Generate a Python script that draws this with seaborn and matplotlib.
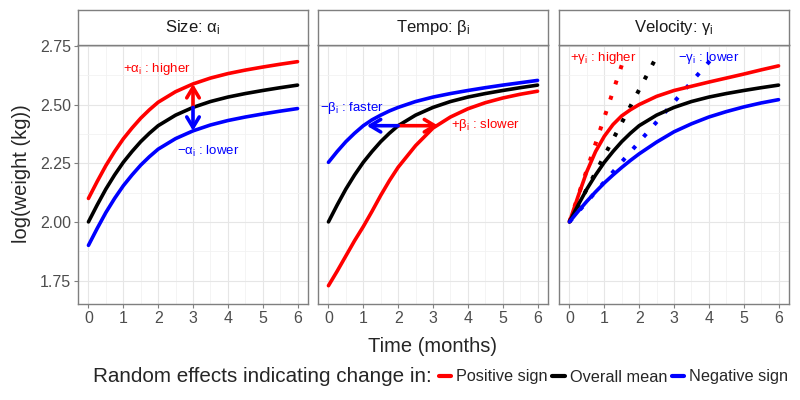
import matplotlib

matplotlib.use("Agg")
import matplotlib.pyplot as plt
import pandas as pd
import seaborn as sns
from matplotlib.lines import Line2D
from matplotlib.ticker import MultipleLocator

# values
time = [0, 0.25, 0.5, 0.75, 1, 1.25, 1.5, 1.75, 2, 2.5, 3, 3.5, 4, 4.5, 5, 5.5, 6]

mean_curve = [2.000, 2.072, 2.140, 2.200, 2.254, 2.300, 2.342, 2.378, 2.410,
              2.455, 2.488, 2.513, 2.532, 2.547, 2.560, 2.572, 2.583]

size_pos = [2.100, 2.172, 2.240, 2.300, 2.354, 2.400, 2.442, 2.478, 2.510,
            2.555, 2.588, 2.613, 2.632, 2.647, 2.660, 2.672, 2.683]
size_neg = [1.900, 1.972, 2.040, 2.100, 2.154, 2.200, 2.242, 2.278, 2.310,
            2.355, 2.388, 2.413, 2.432, 2.447, 2.460, 2.472, 2.483]

tempo_pos = [1.728, 1.790, 1.855, 1.920, 1.980, 2.045, 2.113, 2.176, 2.233,
             2.325, 2.400, 2.447, 2.482, 2.508, 2.528, 2.544, 2.557]
tempo_neg = [2.254, 2.300, 2.342, 2.378, 2.410, 2.435, 2.455, 2.473, 2.488,
             2.513, 2.532, 2.547, 2.560, 2.572, 2.583, 2.593, 2.603]

velocity_pos = [2.000, 2.110, 2.215, 2.300, 2.365, 2.415, 2.452, 2.478, 2.500,
                2.535, 2.560, 2.578, 2.596, 2.613, 2.630, 2.648, 2.665]
velocity_neg = [2.000, 2.045, 2.088, 2.128, 2.166, 2.200, 2.232, 2.262, 2.290,
                2.340, 2.384, 2.418, 2.447, 2.470, 2.490, 2.507, 2.521]

# initial-velocity lines in the velocity panel
tangent_pos_t = [0.0, 1.55]
tangent_mean_t = [0.0, 2.45]
tangent_neg_t = [0.0, 4.05]
tangent_y = [2.0, 2.69]

signs = ["Positive sign", "Overall mean", "Negative sign"]
palette = {"Positive sign": "#FF0000", "Overall mean": "#000000", "Negative sign": "#0000FF"}
panels = ["Size", "Tempo", "Velocity"]
strip_labels = [r"Size: α$_\mathrm{i}$", r"Tempo: β$_\mathrm{i}$",
                r"Velocity: γ$_\mathrm{i}$"]

# arrow positions (time) and labels
size_arrow_t = 3
tempo_arrow_start_t = 2
tempo_arrow_ends_t = [3.15, 1.1]

curves = {
    "Size": [size_pos, mean_curve, size_neg],
    "Tempo": [tempo_pos, mean_curve, tempo_neg],
    "Velocity": [velocity_pos, mean_curve, velocity_neg],
}

frames = []
for panel, series in curves.items():
    for sign, values in zip(signs, series):
        frames.append(pd.DataFrame({"time": time, "value": values,
                                    "sign": sign, "panel": panel}))
df = pd.concat(frames, ignore_index=True)

tangents = pd.concat([
    pd.DataFrame({"time": t, "value": tangent_y, "sign": s})
    for t, s in zip([tangent_pos_t, tangent_mean_t, tangent_neg_t], signs)
], ignore_index=True)

sns.set_theme(style="white")
plt.rcParams["font.family"] = ["Liberation Sans", "DejaVu Sans"]
plt.rcParams["mathtext.fontset"] = "custom"
plt.rcParams["mathtext.rm"] = "Liberation Sans"
plt.rcParams["mathtext.it"] = "Liberation Sans:italic"

W, H = 800, 400
fig = plt.figure(figsize=(8, 4), dpi=100)
lefts = [78, 318, 559]
pw = 230
top, bottom, strip_top = 45, 304, 10
border = "#7F7F7F"
lw = 2.6

axes = []
for i, (panel, left) in enumerate(zip(panels, lefts)):
    ax = fig.add_axes([left / W, 1 - bottom / H, pw / W, (bottom - top) / H])
    sax = fig.add_axes([left / W, 1 - top / H, pw / W, (top - strip_top) / H])
    sax.set_xticks([])
    sax.set_yticks([])
    sax.set_facecolor("white")
    for sp in sax.spines.values():
        sp.set_color(border)
        sp.set_linewidth(1)
    sax.text(0.5, 0.5, strip_labels[i], ha="center", va="center",
             fontsize=12, color="#1A1A1A", transform=sax.transAxes)

    if panel == "Velocity":
        sns.lineplot(data=tangents, x="time", y="value", hue="sign",
                     palette=palette, hue_order=signs, linewidth=2.9,
                     linestyle=(0, (1, 3.0)), legend=False, ax=ax, zorder=2)

    sns.lineplot(data=df[df["panel"] == panel], x="time", y="value", hue="sign",
                 palette=palette, hue_order=signs, linewidth=lw,
                 legend=False, ax=ax, zorder=3)

    ax.set_xlim(-0.3, 6.3)
    ax.set_ylim(1.65, 2.754)
    ax.xaxis.set_major_locator(MultipleLocator(1))
    ax.xaxis.set_minor_locator(MultipleLocator(0.5))
    ax.yaxis.set_major_locator(MultipleLocator(0.25))
    ax.yaxis.set_minor_locator(MultipleLocator(0.125))
    ax.grid(which="major", color="#E6E6E6", linewidth=0.8)
    ax.grid(which="minor", color="#F2F2F2", linewidth=0.6)
    ax.set_axisbelow(True)
    for sp in ax.spines.values():
        sp.set_color(border)
        sp.set_linewidth(1)
    ax.tick_params(axis="both", which="major", length=3, width=0.8, color="#7F7F7F",
                   labelcolor="#4D4D4D", labelsize=11.5, pad=2,
                   bottom=True, left=(i == 0))
    ax.tick_params(which="minor", length=0)
    if i > 0:
        ax.set_yticklabels([])
    ax.set_xlabel("")
    ax.set_ylabel("")
    axes.append(ax)

head = "->,head_length=0.5,head_width=0.3"

# size panel: vertical arrows from the mean curve
ax = axes[0]
k = time.index(size_arrow_t)
for target, sign in [(size_pos, "Positive sign"), (size_neg, "Negative sign")]:
    ax.annotate("", xy=(size_arrow_t, target[k]), xytext=(size_arrow_t, mean_curve[k]),
                arrowprops=dict(arrowstyle=head, color=palette[sign], lw=lw,
                                mutation_scale=15, shrinkA=0, shrinkB=0), zorder=4)
ax.text(1.97, 2.652, r"+α$_\mathrm{i}$ : higher", color="#FF0000",
        fontsize=9.5, ha="center", va="center")
ax.text(3.45, 2.300, r"−α$_\mathrm{i}$ : lower", color="#0000FF",
        fontsize=9.5, ha="center", va="center")

# tempo panel: horizontal arrows at the mean curve
ax = axes[1]
y0 = mean_curve[time.index(tempo_arrow_start_t)]
for end_t, sign in zip(tempo_arrow_ends_t, ["Positive sign", "Negative sign"]):
    ax.annotate("", xy=(end_t, y0), xytext=(tempo_arrow_start_t, y0),
                arrowprops=dict(arrowstyle=head, color=palette[sign], lw=lw,
                                mutation_scale=15, shrinkA=0, shrinkB=0), zorder=4)
ax.text(0.67, 2.486, r"−β$_\mathrm{i}$ : faster", color="#0000FF",
        fontsize=9.5, ha="center", va="center")
ax.text(4.5, 2.415, r"+β$_\mathrm{i}$ : slower", color="#FF0000",
        fontsize=9.5, ha="center", va="center")

# velocity panel labels
ax = axes[2]
ax.text(0.98, 2.70, r"+γ$_\mathrm{i}$ : higher", color="#FF0000",
        fontsize=9.5, ha="center", va="center", zorder=1)
ax.text(4.0, 2.70, r"−γ$_\mathrm{i}$ : lower", color="#0000FF",
        fontsize=9.5, ha="center", va="center", zorder=1)

fig.text(22 / W, 1 - 174 / H, "log(weight (kg))", rotation=90,
         ha="center", va="center", fontsize=14.5)
fig.text(433 / W, 1 - 347 / H, "Time (months)", ha="center", va="center",
         fontsize=14.5)

fig.text(93 / W, 1 - 377 / H, "Random effects indicating change in:",
         ha="left", va="center", fontsize=14.9)
handles = [Line2D([0], [0], color=palette[s], lw=3) for s in signs]
fig.legend(handles, signs, loc="center left", bbox_to_anchor=(439 / W, 1 - 377 / H),
           ncol=3, frameon=False, fontsize=11.7, handlelength=0.75,
           handletextpad=0.3, columnspacing=0.3, borderpad=0, borderaxespad=0)

fig.savefig("out.png", dpi=100)
